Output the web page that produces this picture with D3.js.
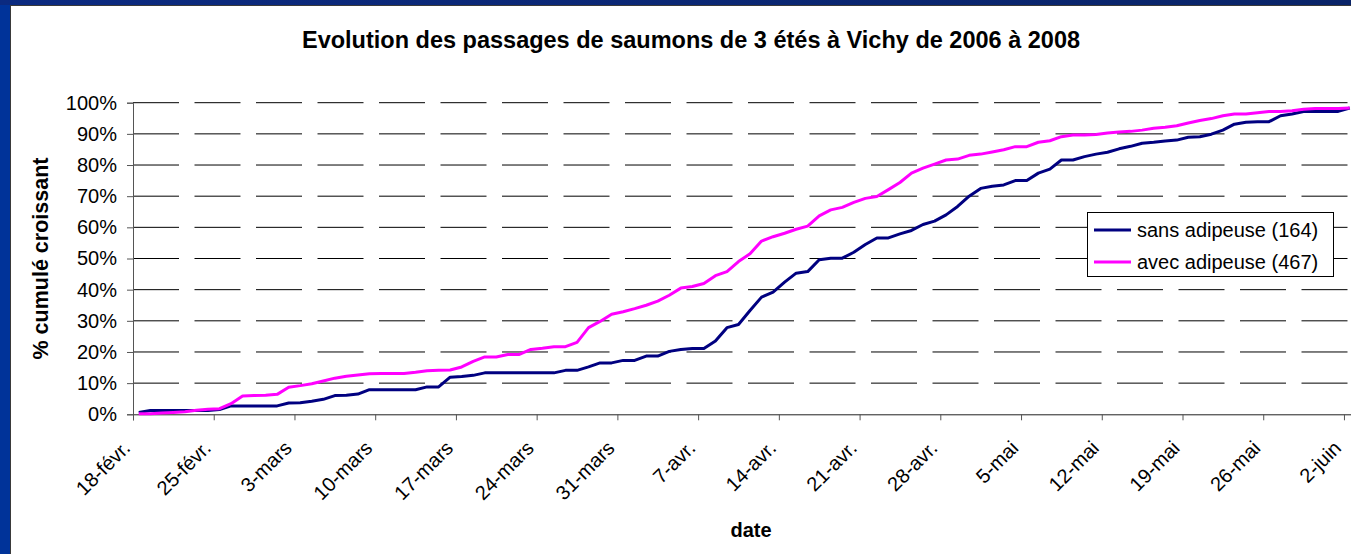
<!DOCTYPE html>
<html>
<head>
<meta charset="utf-8">
<script src="https://cdn.jsdelivr.net/npm/d3@7"></script>
<style>
  html, body { margin: 0; padding: 0; background: #003399; }
  svg { display: block; }
  text { font-family: "Liberation Sans", Arial, sans-serif; fill: #000; }
</style>
</head>
<body>
<svg id="chart" width="1351" height="554"></svg>
<script>
// Daily cumulative share of salmon passages, starting 18 Feb 2008
const startDate = new Date(2008, 1, 18);

const seriesNames = ["sans adipeuse (164)", "avec adipeuse (467)"];
const seriesColors = ["#000080", "#FF00FF"];

// % cumulé — sans adipeuse
const sansAdipeuse = [
  0.6, 1.2, 1.2, 1.2, 1.2, 1.2, 1.2, 1.5, 2.7, 2.7,
  2.7, 2.7, 2.7, 3.6, 3.7, 4.2, 4.8, 6.0, 6.1, 6.5,
  7.9, 7.9, 7.9, 7.9, 7.9, 8.8, 8.8, 11.9, 12.1, 12.5,
  13.3, 13.3, 13.3, 13.3, 13.3, 13.3, 13.3, 14.1, 14.1, 15.2,
  16.5, 16.5, 17.3, 17.3, 18.7, 18.7, 20.2, 20.8, 21.1, 21.1,
  23.5, 27.8, 28.8, 33.3, 37.6, 39.2, 42.4, 45.3, 45.8, 49.6,
  50.1, 50.1, 52.0, 54.5, 56.6, 56.6, 57.9, 59.0, 60.9, 62.0,
  64.0, 66.7, 70.0, 72.5, 73.2, 73.6, 75.0, 75.0, 77.4, 78.7,
  81.6, 81.6, 82.7, 83.5, 84.1, 85.2, 86.0, 87.0, 87.3, 87.7,
  88.0, 88.9, 89.1, 89.9, 91.2, 93.1, 93.7, 93.9, 93.9, 95.8,
  96.4, 97.2, 97.2, 97.2, 97.2, 98.3
];

// % cumulé — avec adipeuse
const avecAdipeuse = [
  0.2, 0.2, 0.4, 0.6, 0.8, 1.3, 1.6, 1.8, 3.4, 5.9,
  6.0, 6.1, 6.4, 8.7, 9.2, 9.8, 10.7, 11.6, 12.2, 12.6,
  13.0, 13.1, 13.1, 13.1, 13.5, 14.0, 14.1, 14.2, 15.2, 17.0,
  18.4, 18.4, 19.2, 19.2, 20.8, 21.2, 21.7, 21.7, 23.1, 27.8,
  29.8, 32.1, 32.9, 33.9, 35.0, 36.3, 38.2, 40.5, 41.0, 42.0,
  44.5, 45.8, 49.0, 51.5, 55.6, 57.0, 58.1, 59.4, 60.4, 63.7,
  65.6, 66.4, 68.0, 69.3, 69.9, 72.1, 74.4, 77.4, 79.0, 80.3,
  81.6, 81.9, 83.1, 83.5, 84.2, 84.9, 85.9, 85.9, 87.3, 87.8,
  89.1, 89.6, 89.6, 89.8, 90.3, 90.6, 90.8, 91.2, 91.8, 92.1,
  92.6, 93.5, 94.3, 94.9, 95.8, 96.4, 96.4, 96.8, 97.2, 97.2,
  97.4, 97.9, 98.1, 98.1, 98.1, 98.3
];

const xTickLabels = [
  "18-févr.", "25-févr.", "3-mars", "10-mars", "17-mars", "24-mars",
  "31-mars", "7-avr.", "14-avr.", "21-avr.", "28-avr.", "5-mai",
  "12-mai", "19-mai", "26-mai", "2-juin"
];
const yTicks = [0, 10, 20, 30, 40, 50, 60, 70, 80, 90, 100];

const svg = d3.select("#chart");
const W = 1351, H = 554;
const plot = { left: 133, top: 102.7, bottom: 414.3 };
const pxPerDay = 11.533;

// Slide frame and white chart area
svg.append("rect").attr("x", 0).attr("y", 0).attr("width", W).attr("height", H).attr("fill", "#003399");
const topGrad = svg.append("defs").append("linearGradient")
  .attr("id", "topBand").attr("x1", 0).attr("y1", 0).attr("x2", 1).attr("y2", 0);
topGrad.append("stop").attr("offset", "0%").attr("stop-color", "#0b2a80");
topGrad.append("stop").attr("offset", "100%").attr("stop-color", "#0a2468");
svg.append("rect").attr("x", 0).attr("y", 0).attr("width", W).attr("height", 5).attr("fill", "url(#topBand)");
svg.append("rect").attr("x", 10.5).attr("y", 5.5).attr("width", W).attr("height", H)
  .attr("fill", "#ffffff").attr("stroke", "#3a3a3a").attr("stroke-width", 1);

// Scales
const dayOf = i => d3.timeDay.offset(startDate, i);
const endDate = d3.timeDay.offset(startDate, 106);
const x = d3.scaleTime().domain([startDate, endDate])
  .range([plot.left, plot.left + 106 * pxPerDay]);
const y = d3.scaleLinear().domain([0, 100]).range([plot.bottom, plot.top]);
// points sit in the middle of their day slot
const xPoint = i => x(d3.timeHour.offset(dayOf(i), 12));

// Dashed horizontal gridlines
svg.append("g").selectAll("line")
  .data(yTicks.filter(v => v > 0))
  .join("line")
  .attr("x1", plot.left).attr("x2", W)
  .attr("y1", d => y(d)).attr("y2", d => y(d))
  .attr("stroke", "#000").attr("stroke-width", 1)
  .attr("stroke-dasharray", "46,15.5");

// Y axis
const yAxis = svg.append("g")
  .attr("transform", `translate(${plot.left},0)`)
  .call(d3.axisLeft(y).tickValues(yTicks).tickFormat(d => d + "%").tickSize(6).tickPadding(10));
yAxis.select(".domain").attr("stroke", "#555");
yAxis.selectAll(".tick line").attr("stroke", "#555");
yAxis.selectAll(".tick text")
  .style("font-family", '"Liberation Sans", Arial, sans-serif')
  .style("font-size", "20px").attr("fill", "#000");

// X axis
const xTickDates = xTickLabels.map((_, i) => dayOf(i * 7));
const xAxis = svg.append("g")
  .attr("transform", `translate(0,${plot.bottom})`)
  .call(d3.axisBottom(x).tickValues(xTickDates).tickFormat((d, i) => xTickLabels[i]).tickSize(6));
xAxis.select(".domain").attr("stroke", "#222");
xAxis.selectAll(".tick line").attr("stroke", "#555");
xAxis.selectAll(".tick text")
  .style("font-family", '"Liberation Sans", Arial, sans-serif')
  .style("font-size", "20px").attr("fill", "#000")
  .attr("text-anchor", "end")
  .attr("dy", null).attr("y", null)
  .attr("transform", "translate(-2,35) rotate(-45)");

// Lines
const line = d3.line().x((d, i) => xPoint(i)).y(d => y(d));
[sansAdipeuse, avecAdipeuse].forEach((vals, k) => {
  svg.append("path")
    .datum(vals)
    .attr("d", line)
    .attr("fill", "none")
    .attr("stroke", seriesColors[k])
    .attr("stroke-width", 3)
    .attr("stroke-linejoin", "round");
});

// Title
svg.append("text")
  .attr("x", 691).attr("y", 48)
  .attr("text-anchor", "middle")
  .style("font-size", "23.5px").style("font-weight", "bold")
  .text("Evolution des passages de saumons de 3 étés à Vichy de 2006 à 2008");

// Axis titles
svg.append("text")
  .attr("transform", `translate(48,${(plot.top + plot.bottom) / 2}) rotate(-90)`)
  .attr("text-anchor", "middle")
  .style("font-size", "21.5px").style("font-weight", "bold")
  .text("% cumulé croissant");

svg.append("text")
  .attr("x", 751).attr("y", 537)
  .attr("text-anchor", "middle")
  .style("font-size", "20px").style("font-weight", "bold")
  .text("date");

// Legend
const legend = svg.append("g");
legend.append("rect")
  .attr("x", 1087.5).attr("y", 212.5).attr("width", 246).attr("height", 64)
  .attr("fill", "#fff").attr("stroke", "#000").attr("stroke-width", 1);
seriesNames.forEach((name, k) => {
  const cy = 230 + k * 32;
  legend.append("line")
    .attr("x1", 1094).attr("x2", 1131).attr("y1", cy).attr("y2", cy)
    .attr("stroke", seriesColors[k]).attr("stroke-width", 3);
  legend.append("text")
    .attr("x", 1137).attr("y", cy + 7)
    .style("font-size", "20px")
    .text(name);
});
</script>
</body>
</html>
